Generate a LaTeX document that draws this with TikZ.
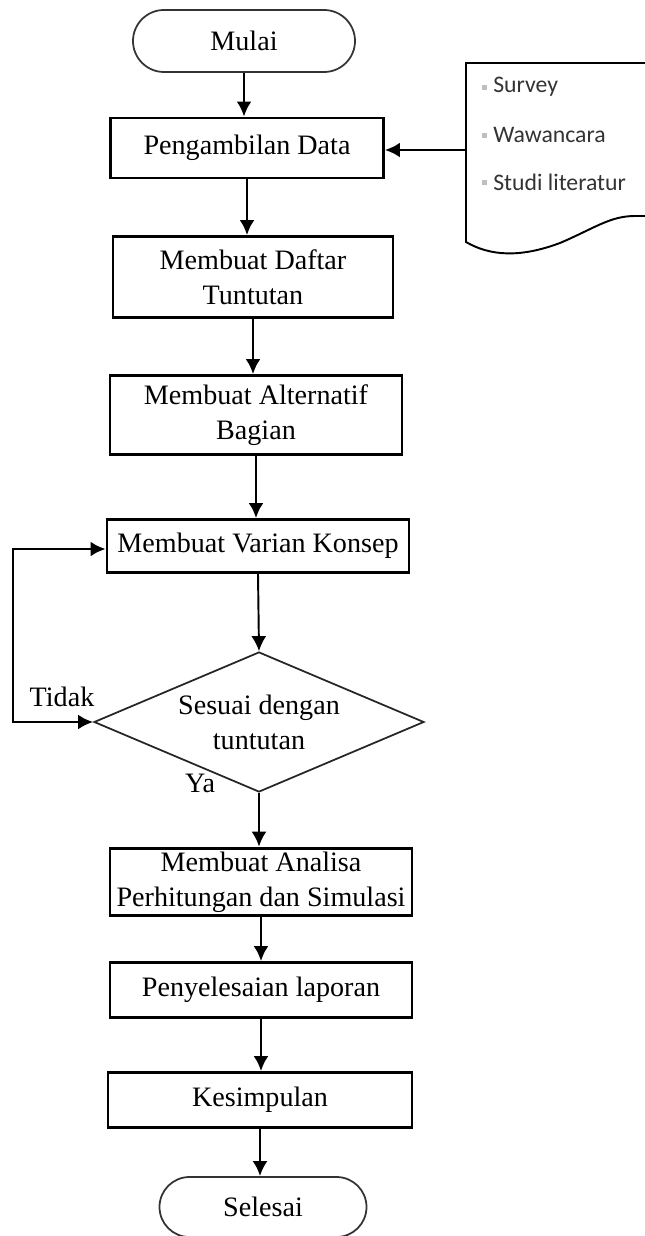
\documentclass[tikz,border=0pt]{standalone}
\usepackage{fontspec}
\setmainfont{Liberation Serif}
\newfontfamily\listfont{Carlito}
\usetikzlibrary{shapes, shapes.geometric, arrows.meta}

\tikzset{
    box/.style={draw, line width=1.6pt, align=center, inner sep=2pt, font=\fontsize{16}{20}\selectfont},
    terminal/.style={draw, line width=1pt, draw=black!80, align=center, font=\fontsize{16}{20}\selectfont},
    decision/.style={diamond, draw, line width=1pt, draw=black!85, aspect=2.36, inner sep=0pt, align=center, font=\fontsize{16}{20}\selectfont},
    arr/.style={line width=1.6pt, -{Latex[length=3mm,width=3mm]}},
    listitem/.style={anchor=west, inner sep=0pt, text=black!80, font=\listfont\fontsize{13.5}{16}\selectfont},
    lbl/.style={inner sep=0pt, font=\fontsize{16}{20}\selectfont}
}

\begin{document}
\begin{tikzpicture}[x=0.2mm, y=-0.2mm]
    % Define page size
    \useasboundingbox (0,0) rectangle (645,1236);
    % Main flow
    \node[terminal, minimum width=44.4mm, minimum height=12.4mm, rounded corners=6.2mm] (mulai) at (244,41) {Mulai};
    \node[box, minimum width=54.6mm, minimum height=12mm] (data) at (247,148) {Pengambilan Data};
    \node[box, minimum width=56mm, minimum height=16.2mm] (daftar) at (253,277) {Membuat Daftar\\Tuntutan};
    \node[box, minimum width=58.4mm, minimum height=15.8mm] (alternatif) at (256,415) {Membuat Alternatif\\Bagian};
    \node[box, minimum width=60.4mm, minimum height=10.6mm] (varian) at (258,546) {Membuat Varian Konsep};
    \node[decision, minimum width=66mm, minimum height=28mm] (sesuai) at (259,722) {Sesuai dengan\\tuntutan};
    \node[box, minimum width=60.4mm, minimum height=13.4mm] (analisa) at (261,882) {Membuat Analisa\\Perhitungan dan Simulasi};
    \node[box, minimum width=60.4mm, minimum height=11mm] (laporan) at (261,990) {Penyelesaian laporan};
    \node[box, minimum width=60.8mm, minimum height=11mm] (simpulan) at (260,1100) {Kesimpulan};
    \node[terminal, minimum width=41.4mm, minimum height=12mm, rounded corners=6mm] (selesai) at (263,1207) {Selesai};
    % Labels of the decision
    \node[lbl] (tidak) at (62,697) {Tidak};
    \node[lbl] (ya) at (200,783) {Ya};
    % Arrows
    \draw[arr] (mulai.south) -- (mulai.south |- data.north);
    \draw[arr] (data.south) -- (data.south |- daftar.north);
    \draw[arr] (daftar.south) -- (daftar.south |- alternatif.north);
    \draw[arr] (alternatif.south) -- (alternatif.south |- varian.north);
    \draw[arr, line width=1.1pt] (varian.south) -- (sesuai.north);
    \draw[arr] (sesuai.south) -- (sesuai.south |- analisa.north);
    \draw[arr] (analisa.south) -- (analisa.south |- laporan.north);
    \draw[arr] (laporan.south) -- (laporan.south |- simpulan.north);
    \draw[arr] (simpulan.south) -- (simpulan.south |- selesai.north);
    % Loop back when not suitable
    \draw[line width=1.6pt, {Latex[length=3mm,width=3mm]}-{Latex[length=3mm,width=3mm]}]
        (sesuai.west) -- (13,722) -- (13,549) -- (varian.west |- 0,549);
    % Data sources (document shape)
    \draw[line width=1.1pt, fill=white]
        (660,63) -- (466,63) -- (466,242)
        .. controls (490,256) and (520,258) .. (560,243)
        .. controls (595,228) and (610,216) .. (635,216) -- (660,216);
    \coordinate (dok) at (466,150);
    \draw[arr] (dok) -- (data.east |- dok);
    \fill[black!25] (482,85) rectangle (487,90);
    \fill[black!25] (482,133) rectangle (487,138);
    \fill[black!25] (482,180) rectangle (487,185);
    \node[listitem] (survey) at (493,87) {Survey};
    \node[listitem] (wawancara) at (493,135) {Wawancara};
    \node[listitem] (studi) at (493,182) {Studi literatur};
\end{tikzpicture}
\end{document}
